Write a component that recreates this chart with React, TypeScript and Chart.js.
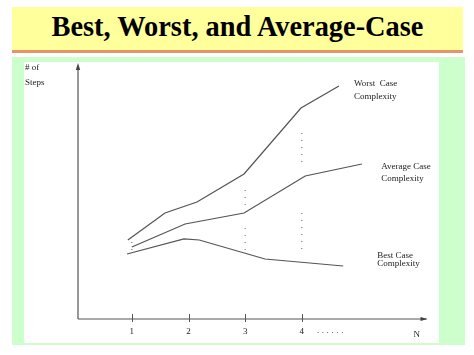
import React, { useEffect, useRef } from "react";
import { Chart, registerables } from "chart.js";

Chart.register(...registerables);

// ---- Data (arbitrary "steps" units) ----
const worstX = [0.93, 1.585, 2.15, 2.98, 3.985, 4.655];
const worstY = [7.9, 10.6, 11.7, 14.5, 21.1, 23.3];
const averageX = [1.0, 1.94, 2.98, 4.06, 5.06];
const averageY = [7.2, 9.5, 10.6, 14.3, 15.5];
const bestX = [0.915, 1.92, 2.19, 3.35, 4.73];
const bestY = [6.5, 8.0, 7.9, 6.0, 5.3];

// dotted gaps between the curves
const gapX = [1, 3, 3, 4, 4];
const gapTop = [7.7, 12.9, 9.1, 18.6, 10.6];
const gapBottom = [6.9, 11.4, 6.7, 15.4, 6.9];

const xTickValues = [1, 2, 3, 4];
const xTickLabels = ["1", "2", "3", "4"];
const ellipsisLabel = "......";
const ellipsisX = 4.5;
const axisEndLabel = "N";
const axisEndX = 6.03;
const yTitleLines = ["# of", "Steps"];
const yTitleX = -0.885;
const yTitleY = [25.1, 23.6];

const curveLabelLines = [
  ["Worst  Case", "Complexity"],
  ["Average Case", "Complexity"],
  ["Best Case", "Complexity"],
];
const curveLabelX = [4.92, 5.4, 5.33];
const curveLabelY = [
  [23.5, 22.2],
  [15.2, 14.0],
  [6.3, 5.5],
];

const titleText = "Best, Worst, and Average-Case";

const X_MIN = 0.05;
const X_MAX = 6.2;
const Y_MIN = 0;
const Y_MAX = 25.5;

const toPoints = (xs: number[], ys: number[]) => xs.map((x, i) => ({ x, y: ys[i] }));

const SERIF = '"Liberation Serif", "Times New Roman", serif';

const decorPlugin = {
  id: "decor",
  afterDraw(chart: any) {
    const ctx = chart.ctx as CanvasRenderingContext2D;
    const xs = chart.scales.x;
    const ys = chart.scales.y;
    const area = chart.chartArea;
    const ox = area.left;
    const oy = area.bottom;
    ctx.save();
    // axes
    ctx.strokeStyle = "#555";
    ctx.fillStyle = "#444";
    ctx.lineWidth = 1.2;
    ctx.beginPath();
    ctx.moveTo(ox, oy);
    ctx.lineTo(area.right, oy);
    ctx.moveTo(ox, oy);
    ctx.lineTo(ox, area.top + 2);
    ctx.stroke();
    // arrow heads
    ctx.beginPath();
    ctx.moveTo(ox, area.top - 1);
    ctx.lineTo(ox - 2.2, area.top + 6);
    ctx.lineTo(ox + 2.2, area.top + 6);
    ctx.closePath();
    ctx.fill();
    ctx.beginPath();
    ctx.moveTo(area.right + 1, oy);
    ctx.lineTo(area.right - 6, oy - 2);
    ctx.lineTo(area.right - 6, oy + 2);
    ctx.closePath();
    ctx.fill();
    // tick marks
    ctx.lineWidth = 1;
    ctx.beginPath();
    xTickValues.forEach((v) => {
      const px = Math.round(xs.getPixelForValue(v)) + 0.5;
      ctx.moveTo(px, oy - 5);
      ctx.lineTo(px, oy + 3);
    });
    ctx.stroke();
    // tick labels
    ctx.fillStyle = "#222";
    ctx.font = `9px ${SERIF}`;
    ctx.textAlign = "center";
    ctx.textBaseline = "middle";
    xTickValues.forEach((v, i) => {
      ctx.fillText(xTickLabels[i], xs.getPixelForValue(v), oy + 13);
    });
    ctx.fillText(axisEndLabel, xs.getPixelForValue(axisEndX), oy + 16);
    (ctx as any).letterSpacing = "2.6px";
    ctx.fillText(ellipsisLabel, xs.getPixelForValue(ellipsisX) + 1.3, oy + 12);
    (ctx as any).letterSpacing = "0px";
    // y title
    ctx.textAlign = "left";
    yTitleLines.forEach((t, i) => {
      ctx.fillText(t, xs.getPixelForValue(yTitleX), ys.getPixelForValue(yTitleY[i]));
    });
    // curve labels
    curveLabelLines.forEach((lines, k) => {
      lines.forEach((t, i) => {
        ctx.fillText(t, xs.getPixelForValue(curveLabelX[k]), ys.getPixelForValue(curveLabelY[k][i]));
      });
    });
    ctx.restore();
  },
};

export default function App() {
  const canvasRef = useRef<HTMLCanvasElement | null>(null);

  useEffect(() => {
    const canvas = canvasRef.current;
    if (!canvas) return;
    const lineStyle = {
      borderColor: "#555",
      borderWidth: 1.25,
      pointRadius: 0,
      showLine: true,
      fill: false,
      tension: 0,
    };
    const gapSets = gapX.map((x, i) => ({
      data: [
        { x, y: gapTop[i] },
        { x, y: gapBottom[i] },
      ],
      borderColor: "#666",
      borderWidth: 1,
      borderDash: [1, 6],
      pointRadius: 0,
      showLine: true,
      fill: false,
    }));
    const chart = new Chart(canvas, {
      type: "scatter",
      data: {
        datasets: [
          { label: "Worst Case", data: toPoints(worstX, worstY), ...lineStyle },
          { label: "Average Case", data: toPoints(averageX, averageY), ...lineStyle },
          { label: "Best Case", data: toPoints(bestX, bestY), ...lineStyle },
          ...gapSets,
        ],
      } as any,
      options: {
        responsive: false,
        animation: false,
        devicePixelRatio: 1,
        layout: { padding: { left: 54, right: 12.5, top: 2, bottom: 24 } },
        plugins: { legend: { display: false }, tooltip: { enabled: false } },
        scales: {
          x: { type: "linear", min: X_MIN, max: X_MAX, display: false },
          y: { type: "linear", min: Y_MIN, max: Y_MAX, display: false },
        },
      },
      plugins: [decorPlugin],
    });
    return () => chart.destroy();
  }, []);

  return (
    <div style={{ position: "fixed", left: 0, top: 0, width: 474, height: 355, background: "#fff", overflow: "hidden" }}>
      <div style={{ position: "absolute", left: 12, top: 7, width: 451, height: 43, background: "#ffff9c" }} />
      <div
        style={{
          position: "absolute",
          left: 12,
          top: 13,
          width: 451,
          textAlign: "center",
          fontFamily: SERIF,
          fontWeight: "bold",
          fontSize: "28.4px",
          lineHeight: "28.4px",
          color: "#000",
          whiteSpace: "nowrap",
        }}
      >
        {titleText}
      </div>
      <div style={{ position: "absolute", left: 12, top: 50, width: 451, height: 3, background: "#e8936a" }} />
      <div style={{ position: "absolute", left: 12, top: 57, width: 453, height: 288, background: "#ccffcc" }} />
      <div style={{ position: "absolute", left: 24, top: 62, width: 415, height: 281, background: "#fff" }}>
        <canvas ref={canvasRef} width={415} height={281} style={{ display: "block" }} />
      </div>
    </div>
  );
}
